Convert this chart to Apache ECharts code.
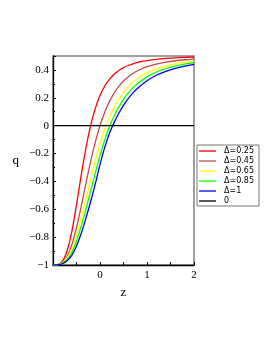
<!DOCTYPE html>
<html><head><meta charset="utf-8">
<script src="https://cdn.jsdelivr.net/npm/echarts@6/dist/echarts.min.js"></script>
<style>html,body{margin:0;padding:0;background:#fff}#c{width:273px;height:353px}</style>
</head><body><div id="c"></div>
<script>
var zVals = [-1,-0.9,-0.8,-0.7,-0.6,-0.5,-0.4,-0.3,-0.2,-0.1,0,0.1,0.2,0.3,0.4,0.5,0.6,0.7,0.8,1.0,1.2,1.4,1.6,1.8,2.0];
var qD025 = [-1,-0.998,-0.974,-0.900,-0.761,-0.568,-0.356,-0.161,0,0.124,0.216,0.283,0.332,0.369,0.396,0.417,0.432,0.444,0.454,0.467,0.476,0.482,0.487,0.490,0.492];
var qD045 = [-1,-0.998,-0.983,-0.939,-0.856,-0.732,-0.579,-0.415,-0.258,-0.118,0,0.096,0.173,0.234,0.282,0.320,0.350,0.374,0.394,0.423,0.442,0.456,0.466,0.473,0.478];
var qD065 = [-1,-0.998,-0.985,-0.949,-0.883,-0.786,-0.663,-0.525,-0.384,-0.250,-0.131,-0.028,0.059,0.131,0.190,0.239,0.279,0.311,0.338,0.379,0.408,0.428,0.443,0.454,0.463];
var qD085 = [-1,-0.998,-0.988,-0.962,-0.910,-0.828,-0.722,-0.600,-0.470,-0.340,-0.215,-0.104,-0.008,0.069,0.134,0.188,0.233,0.271,0.302,0.350,0.385,0.410,0.428,0.442,0.452];
var qD1 = [-1,-0.999,-0.991,-0.970,-0.931,-0.864,-0.774,-0.665,-0.546,-0.418,-0.279,-0.157,-0.056,0.022,0.089,0.146,0.194,0.235,0.269,0.323,0.362,0.390,0.412,0.428,0.440];
var zeroZ = [-1, 2];
var zeroQ = [0, 0];
var names = ['Δ=0.25','Δ=0.45','Δ=0.65','Δ=0.85','Δ=1','0'];
var colors = ['#ff0000','#c84848','#ffff00','#00ff00','#0000ff','#000000'];

function pairs(xs, ys){ return xs.map(function(x,i){ return [x, ys[i]]; }); }
var curves = [qD025,qD045,qD065,qD085,qD1];
var series = curves.map(function(c,i){
  return {name:names[i], type:'line', data:pairs(zVals,c), showSymbol:false, smooth:0.35,
    lineStyle:{color:colors[i], width:1.3}, itemStyle:{color:colors[i]}, z:3};
});
series.push({name:names[5], type:'line', data:pairs(zeroZ,zeroQ), showSymbol:false,
  lineStyle:{color:'#000', width:1.3}, itemStyle:{color:'#000'}, z:4});

var serif = 'Liberation Serif';
var chart = echarts.init(document.getElementById('c'), null, {renderer:'canvas'});
chart.setOption({
  animation:false,
  backgroundColor:'#fff',
  grid:{left:53, right:79, top:56, bottom:88, show:true, borderColor:'#808080', borderWidth:1.5},
  legend:{
    data:names.map(function(n,i){return {name:n, icon:'rect'};}),
    orient:'vertical', left:197, top:145, itemWidth:17, itemHeight:1.3, itemGap:2,
    padding:[2,5,1,2], borderColor:'#777', borderWidth:1,
    textStyle:{fontFamily:'DejaVu Sans', fontSize:8, lineHeight:8, color:'#000', padding:[0,0,0,3]}
  },
  xAxis:{type:'value', min:-1, max:2, interval:0.5,
    name:'z', nameLocation:'middle', nameGap:21, nameTextStyle:{fontFamily:serif, fontSize:13, color:'#000'},
    axisLine:{show:true, onZero:false, lineStyle:{color:'#000', width:1.3}},
    axisTick:{show:true, inside:true, length:3, lineStyle:{color:'#000'}},
    axisLabel:{fontFamily:serif, fontSize:11, color:'#000', margin:5,
      formatter:function(v){ return (Number.isInteger(v) && v>=0) ? String(v) : ''; }},
    splitLine:{show:false}},
  yAxis:{type:'value', min:-1, max:0.5, interval:0.2,
    name:'q', nameLocation:'middle', nameRotate:0, nameGap:34, nameTextStyle:{fontFamily:serif, fontSize:13, color:'#000'},
    axisLine:{show:true, onZero:false, lineStyle:{color:'#000', width:1.3}},
    axisTick:{show:true, inside:true, length:3, lineStyle:{color:'#000'}},
    minorTick:{show:true, splitNumber:2, length:2, lineStyle:{color:'#000'}},
    axisLabel:{fontFamily:serif, fontSize:11, color:'#000', margin:4,
      formatter:function(v){ if (v>0.45) return ''; var r=Math.round(v*10)/10; if (r===0) return '0'; return r<0 ? '\u2212'+String(-r) : String(r); }},
    splitLine:{show:false}},
  series:series
});
</script></body></html>
